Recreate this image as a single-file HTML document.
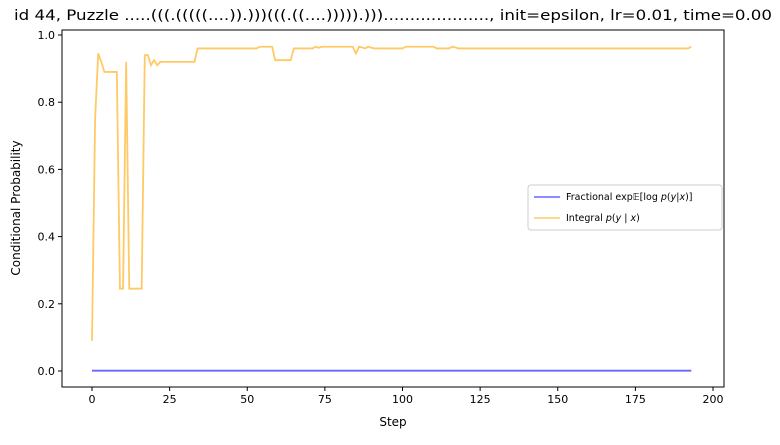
<!DOCTYPE html>
<html><head><meta charset="utf-8"><style>
body{margin:0;background:#fff;font-family:"Liberation Sans","DejaVu Sans",sans-serif}
svg text{font-family:"DejaVu Sans","Liberation Sans",sans-serif}
</style></head><body>
<svg id="c" width="780" height="440" xmlns="http://www.w3.org/2000/svg">
<rect width="780" height="440" fill="#fff"/>
<text x="14" y="20" font-size="14.5" textLength="758" lengthAdjust="spacingAndGlyphs">id 44, Puzzle .....(((.(((((....)).)))(((.((....))))).)))...................., init=epsilon, lr=0.01, time=0.00</text>
<g id="plot"></g>
<text x="393" y="426" font-size="12" text-anchor="middle">Step</text>
<text x="20" y="208" font-size="12" text-anchor="middle" transform="rotate(-90 20 208)">Conditional Probability</text>
<g>
<rect x="528" y="185" width="194" height="45" rx="3" fill="#fff" stroke="#ccc"/>
<line x1="534" y1="197" x2="560" y2="197" stroke="#0000ff" stroke-opacity="0.6" stroke-width="1.5"/>
<text x="566" y="200" font-size="9.5">Fractional exp𝔼[log <tspan font-style="italic">p</tspan>(<tspan font-style="italic">y</tspan>|<tspan font-style="italic">x</tspan>)]</text>
<line x1="534" y1="218" x2="560" y2="218" stroke="#ffa500" stroke-opacity="0.6" stroke-width="1.5"/>
<text x="566" y="221" font-size="9.5">Integral <tspan font-style="italic">p</tspan>(<tspan font-style="italic">y</tspan> | <tspan font-style="italic">x</tspan>)</text>
</g>
</svg>
<script>
const xTicks=[0,25,50,75,100,125,150,175,200];
const yTicks=[0.0,0.2,0.4,0.6,0.8,1.0];
const integral=[0.09,0.75,0.945,0.92,0.89,0.89,0.89,0.89,0.89,0.245,0.245,0.92,0.245,0.245,0.245,0.245,0.245,0.94,0.94,0.91,0.925,0.91,0.92,0.92,
0.92,0.92,0.92,0.92,0.92,0.92,0.92,0.92,0.92,0.92,0.96,0.96,0.96,0.96,0.96,0.96,0.96,0.96,0.96,0.96,0.96,0.96,0.96,0.96,0.96,0.96,0.96,0.96,0.96,0.96,
0.965,0.965,0.965,0.965,0.965,0.925,0.925,0.925,0.925,0.925,0.925,0.96,0.96,0.96,0.96,0.96,0.96,0.96,0.965,0.962,0.965,0.965,0.965,0.965,0.965,0.965,0.965,0.965,0.965,0.965,0.965,
0.945,0.965,0.963,0.96,0.965,0.962,0.96,0.96,0.96,0.96,0.96,0.96,0.96,0.96,0.96,0.96,0.965,0.965,0.965,0.965,0.965,0.965,0.965,0.965,0.965,0.965,0.96,0.96,0.96,0.96,0.96,0.965,0.963,
0.96,0.96,0.96,0.96,0.96,0.96,0.96,0.96,0.96,0.96,0.96,0.96,0.96,0.96,0.96,0.96,0.96,0.96,0.96,0.96,0.96,0.96,0.96,0.96,0.96,0.96,0.96,0.96,0.96,0.96,
0.96,0.96,0.96,0.96,0.96,0.96,0.96,0.96,0.96,0.96,0.96,0.96,0.96,0.96,0.96,0.96,0.96,0.96,0.96,0.96,0.96,0.96,0.96,0.96,0.96,0.96,0.96,0.96,0.96,0.96,
0.96,0.96,0.96,0.96,0.96,0.96,0.96,0.96,0.96,0.96,0.96,0.96,0.96,0.96,0.96,0.965];
const fractional=integral.map(()=>0.001);
const NS="http://www.w3.org/2000/svg";
const L=62,R=724,T=30,B=387;
const xs=v=>92+v*(713-92)/200;
const ys=v=>371-v*(371-35);
const g=document.getElementById('plot');
function mk(t,a){const e=document.createElementNS(NS,t);for(const k in a)e.setAttribute(k,a[k]);g.appendChild(e);return e;}
xTicks.forEach(t=>{
 const l=mk('line',{x1:xs(t),x2:xs(t),y1:B,y2:B+4,stroke:'#000'});
 
 
 const tx=mk('text',{x:xs(t),y:B+16,'font-size':11,'text-anchor':'middle'});tx.textContent=t;
 
 
});
yTicks.forEach(t=>{
 const l=mk('line',{x1:L-4,x2:L,y1:ys(t),y2:ys(t),stroke:'#000'});
 
 
 const tx=mk('text',{x:L-7,y:ys(t)+4,'font-size':11,'text-anchor':'end'});tx.textContent=t.toFixed(1);
 
 
});
function line(arr,col,name){
 const p=mk('polyline',{points:arr.map((v,i)=>xs(i)+','+ys(v)).join(' '),fill:'none',stroke:col,'stroke-opacity':0.6,'stroke-width':1.8});
 
 
}
line(fractional,'#0000ff','fractional-line');
line(integral,'#ffa500','integral-line');
const f=mk('rect',{x:L,y:T,width:R-L,height:B-T,fill:'none',stroke:'#000'});


</script>
</body></html>
